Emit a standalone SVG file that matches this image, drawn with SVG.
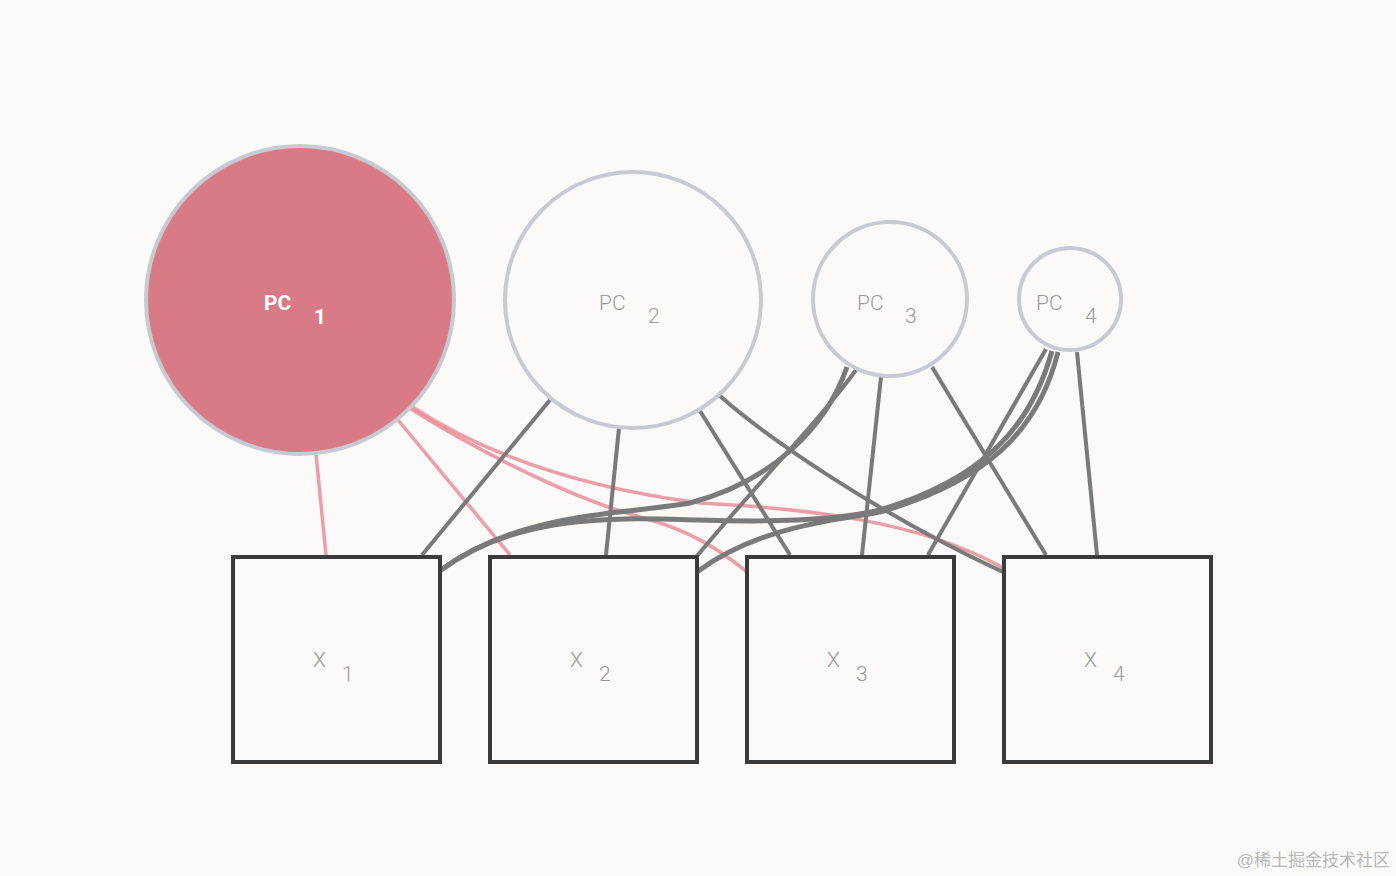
<svg xmlns="http://www.w3.org/2000/svg" width="1396" height="876" viewBox="0 0 1396 876">
<style>
.e{fill:none;stroke:#7a7a7a;stroke-width:4;stroke-linecap:butt}
.t{stroke-width:5}
.r{fill:none;stroke:#e87d8c;stroke-opacity:0.75;stroke-width:3.5}
.pc{fill:#fbfaf8;stroke:#c7cad0;stroke-width:4}
.box{fill:#fbfaf8;stroke:#3b3b3b;stroke-width:4}
.lb{font-family:Roboto,"Liberation Sans",sans-serif;font-weight:300;fill:#9a9a9a;font-size:21px}
.lw{font-family:Roboto,"Liberation Sans",sans-serif;font-weight:700;fill:#ffffff;font-size:21px}
</style>
<rect width="1396" height="876" fill="#fbfaf8"/>
<g id="connectors">
<line class="r" x1="316" y1="454" x2="326" y2="555"/>
<line class="r" x1="398" y1="420" x2="510" y2="555"/>
<path class="r" d="M411,409 C460,440 560,495 640,517 C690,530 720,550 747,572"/>
<path class="r" d="M411,406 C470,445 560,485 700,503 C800,508 920,520 1003,568"/>
<line class="e" x1="550" y1="400" x2="422" y2="555"/>
<line class="e" x1="619" y1="428" x2="606" y2="555"/>
<line class="e" x1="700" y1="411" x2="790" y2="555"/>
<path class="e" d="M720,396 C770,440 880,515 1003,572"/>
<path class="e t" d="M847,367 C825,430 770,482 690,503 C620,515 520,512 441,570"/>
<path class="e" d="M856,370 C820,420 760,480 697,556"/>
<line class="e" x1="881" y1="377" x2="862" y2="555"/>
<line class="e" x1="932" y1="367" x2="1046" y2="555"/>
<path class="e t" d="M1052,351 C1030,430 980,480 880,510 C830,522 760,522 700,520 C620,518 520,512 441,570"/>
<path class="e t" d="M1058,352 C1038,432 985,482 880,512 C840,520 760,525 697,572"/>
<line class="e" x1="1046" y1="349" x2="928" y2="555"/>
<line class="e" x1="1077" y1="352" x2="1097" y2="555"/>
</g>
<g id="PC1">
<circle cx="300" cy="300" r="154" fill="#d87b86" stroke="#c7cad0" stroke-width="4"/>
<text class="lw" x="264" y="310">PC</text>
<text class="lw" x="314" y="324">1</text>
</g>
<g id="PC2">
<circle class="pc" cx="633" cy="300" r="128"/>
<text class="lb" x="599" y="310">PC</text>
<text class="lb" x="648" y="323">2</text>
</g>
<g id="PC3">
<circle class="pc" cx="890" cy="299" r="77"/>
<text class="lb" x="857" y="310">PC</text>
<text class="lb" x="905" y="323">3</text>
</g>
<g id="PC4">
<circle class="pc" cx="1070" cy="299" r="51"/>
<text class="lb" x="1036" y="310">PC</text>
<text class="lb" x="1085" y="323">4</text>
</g>
<g id="X1">
<rect class="box" x="233" y="557" width="207" height="205"/>
<text class="lb" x="313" y="667">X</text>
<text class="lb" x="342" y="681">1</text>
</g>
<g id="X2">
<rect class="box" x="490" y="557" width="207" height="205"/>
<text class="lb" x="570" y="667">X</text>
<text class="lb" x="599" y="681">2</text>
</g>
<g id="X3">
<rect class="box" x="747" y="557" width="207" height="205"/>
<text class="lb" x="827" y="667">X</text>
<text class="lb" x="856" y="681">3</text>
</g>
<g id="X4">
<rect class="box" x="1004" y="557" width="207" height="205"/>
<text class="lb" x="1084" y="667">X</text>
<text class="lb" x="1113" y="681">4</text>
</g>
<text x="1390" y="866" text-anchor="end" font-family="'Liberation Sans','Noto Sans CJK SC',sans-serif" font-size="17" fill="#b8b8b8">@稀土掘金技术社区</text>
</svg>
